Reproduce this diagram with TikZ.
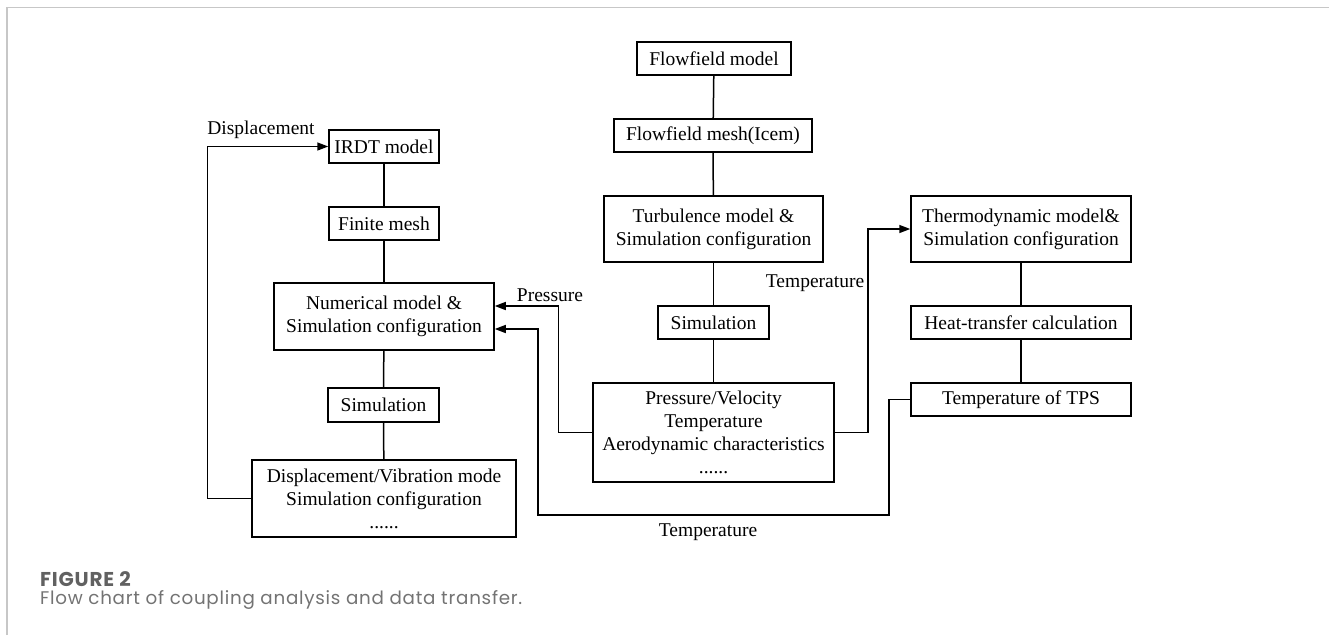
\documentclass[tikz,border=0pt]{standalone}
\usepackage{fontspec}
\setmainfont{Liberation Serif}
\newfontfamily\capfontA[LetterSpace=4]{Poppins}
\newfontfamily\capfontB[LetterSpace=4]{Poppins}
\usetikzlibrary{arrows.meta}
\begin{document}
\begin{tikzpicture}[x=1pt,y=-1pt,
  box/.style={draw, line width=1.5pt, inner sep=0pt, align=center,
    font=\fontsize{19.5}{23}\selectfont},
  conn/.style={line width=1.5pt},
  arr/.style={line width=1.5pt, -{Triangle[length=11pt,width=8pt]}},
  lbl/.style={inner sep=0pt, font=\fontsize{19.5}{23}\selectfont},
  frame/.style={draw=black!22, line width=1.3pt}]
\useasboundingbox (0,0) rectangle (1329,635);
\draw[frame] (7,635) -- (7,7.5) -- (1329,7.5);
% left column
\node[box, minimum width=110pt, minimum height=33pt] (irdt) at (384,146.5) {IRDT model};
\node[box, minimum width=110pt, minimum height=33pt] (fmesh) at (384,223.5) {Finite mesh};
\node[box, minimum width=220pt, minimum height=67pt] (num) at (384,316.5) {Numerical model \&\\Simulation configuration};
\node[box, minimum width=111pt, minimum height=34pt] (siml) at (383.5,405) {Simulation};
\node[box, minimum width=264pt, minimum height=77pt] (disp) at (384,498.5) {Displacement/Vibration mode\\Simulation configuration\\......};
% middle column
\node[box, minimum width=154pt, minimum height=33pt] (ffm) at (714,58.5) {Flowfield model};
\node[box, minimum width=198pt, minimum height=33pt] (ffmesh) at (713,135.5) {Flowfield mesh(Icem)};
\node[box, minimum width=219pt, minimum height=66pt] (turb) at (713.5,229) {Turbulence model \&\\Simulation configuration};
\node[box, minimum width=111pt, minimum height=33pt] (simm) at (713.5,322.5) {Simulation};
\node[box, minimum width=241pt, minimum height=99pt] (pv) at (713.5,432.5) {Pressure/Velocity\\Temperature\\Aerodynamic characteristics\\......};
% right column
\node[box, minimum width=220pt, minimum height=66pt] (thermo) at (1021,229) {Thermodynamic model\&\\Simulation configuration};
\node[box, minimum width=220pt, minimum height=33pt] (heat) at (1021,322.5) {Heat-transfer calculation};
\node[box, minimum width=220pt, minimum height=33pt] (tps) at (1021,399.5) {Temperature of TPS};
% vertical chains
\draw[conn] (irdt) -- (fmesh);
\draw[conn] (fmesh) -- (num);
\draw[conn] (num) -- (siml);
\draw[conn] (siml) -- (disp);
\draw[conn] (ffm) -- (ffmesh);
\draw[conn] (ffmesh) -- (turb);
\draw[conn] (turb) -- (simm);
\draw[conn] (simm) -- (pv);
\draw[conn] (thermo) -- (heat);
\draw[conn] (heat) -- (tps);
% feedback loops
\draw[arr] (disp.west) -- ++(-44,0) |- (irdt.west);
\draw[arr] (pv.west) -- ++(-34,0) |- ([yshift=10.5pt]num.east);
\draw[arr] (pv.east) -- ++(33,0) |- (thermo.west);
\coordinate (tb) at (889,515);
\draw[arr] (tps.west) -| (tb) -- (538,515) |- ([yshift=-12.5pt]num.east);
% labels
\node[lbl] (ldisp) at (261,130) {Displacement};
\node[lbl] (lpress) at (550,295) {Pressure};
\node[lbl] (ltemp1) at (815,283) {Temperature};
\node[lbl] (ltemp2) at (708,532) {Temperature};
% caption
\node[anchor=base west, inner sep=0pt, text=black!62, font=\capfontA\fontsize{20}{22}\selectfont\bfseries] (cap1) at (40,586) {FIGURE 2};
\node[anchor=base west, inner sep=0pt, text=black!55, font=\capfontB\fontsize{18.3}{22}\selectfont] (cap2) at (40,604) {Flow chart of coupling analysis and data transfer.};
\end{tikzpicture}
\end{document}
